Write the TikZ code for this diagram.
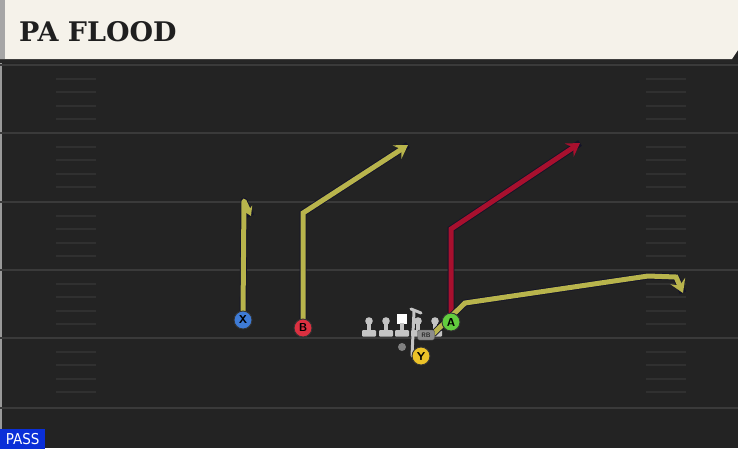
\documentclass[tikz,border=0pt]{standalone}
\usepackage{fontspec}
\setmainfont{DejaVu Sans}
\newfontfamily\titlefont{DejaVu Serif}
\newfontfamily\tagfont{DejaVu Sans Condensed}
\usetikzlibrary{arrows.meta}
\definecolor{fieldbg}{HTML}{232323}
\definecolor{cream}{HTML}{F5F2EA}
\definecolor{yardline}{HTML}{3A3A3A}
\definecolor{hashc}{HTML}{303030}
\definecolor{routey}{HTML}{B8B44C}
\definecolor{router}{HTML}{A8102E}
\definecolor{outl}{HTML}{141428}
\definecolor{pblue}{HTML}{3E7BD6}
\definecolor{pred}{HTML}{DC3040}
\definecolor{pgreen}{HTML}{62CC3E}
\definecolor{pyellow}{HTML}{EBC229}
\definecolor{figc}{HTML}{C4C4C4}
\definecolor{passblue}{HTML}{0A2FD8}
\tikzset{
  player/.style={circle, draw=black!80, line width=0.9pt, minimum size=18pt, inner sep=0pt, font=\sffamily\bfseries\fontsize{11.5}{11.5}\selectfont, text=black},
  routeout/.style={draw=outl, line width=6.8pt, line join=miter, line cap=butt},
  routein/.style={line width=5pt, line join=miter, -{Stealth[length=13pt,width=16pt,inset=5pt]}},
  yline/.style={yardline, line width=1.8pt},
  hashmark/.style={hashc, line width=1.3pt},
}
\begin{document}
\begin{tikzpicture}[x=1pt,y=-1pt]
\useasboundingbox (0,0) rectangle (738,448);
% field
\fill[fieldbg] (0,0) rectangle (738,448);
\fill[black!40] (0,62) rectangle (2,448);
% yard lines
\foreach \yy in {65,133,202,270,338,408} {\draw[yline] (0,\yy) -- (738,\yy);}
% hash marks
\foreach \yy in {65,133,202,270,338} {
  \foreach \k in {1,2,3,4} {
    \draw[hashmark] (56,{round(\yy+\k*13.6)}) -- (96,{round(\yy+\k*13.6)});
    \draw[hashmark] (646,{round(\yy+\k*13.6)}) -- (686,{round(\yy+\k*13.6)});
  }
}
% header
\fill[black!85] (0,58) rectangle (738,63);
\fill[cream] (0,0) -- (738,0) -- (738,50) -- (732,59) -- (0,59) -- cycle;
\fill[black!35] (0,0) rectangle (5,59);
\node[anchor=west, inner sep=0pt, font=\titlefont\bfseries\fontsize{27}{27}\selectfont, text=black!88] (title) at (19,32) {PA FLOOD};
% PASS tag
\node[anchor=south west, fill=passblue, text=white, inner sep=0pt, minimum width=45pt, minimum height=20pt, font=\tagfont\fontsize{15}{15}\selectfont] (pass) at (0,449) {PASS};

% route coordinates
\coordinate (x1) at (244,201);
\coordinate (x2) at (251,216);
\coordinate (b1) at (303,213);
\coordinate (b2) at (408,145);
\coordinate (r1) at (451,229);
\coordinate (r2) at (580,143);
\coordinate (a0) at (433,334);
\coordinate (a1) at (465,303);
\coordinate (a2) at (648,276);
\coordinate (a3) at (676,277);
\coordinate (a4) at (683,293);

% formation figures
\foreach \xx in {369,386,418,435} {
  \fill[figc] (\xx,321) circle (3.8pt);
  \fill[figc] (\xx-2,321) rectangle (\xx+2,331);
  \fill[figc, rounded corners=1pt] (\xx-7,330) rectangle (\xx+7,336.5);
}
\fill[white] (397,314) rectangle (407,324);
\fill[figc] (400,323) rectangle (404,331);
\fill[figc, rounded corners=1pt] (395,330) rectangle (409,336.5);
% QB
\draw[figc, line width=3pt, line cap=round] (411,309) -- (421,313);
\draw[figc, line width=3pt, line cap=round] (414,311) -- (412,356);
\fill[black!50] (402,347) circle (4pt);

% routes
\draw[routeout] (303,321) -- (b1) -- (b2);
\draw[routein, routey] (303,321) -- (b1) -- (b2);
\draw[routeout, line join=round] (243,313) -- (x1) -- (x2);
\draw[routein, routey, line join=round, -{Stealth[length=9pt,width=11pt,inset=3pt]}] (243,313) -- (x1) -- (x2);
\draw[routeout] (451,318) -- (r1) -- (r2);
\draw[routein, router] (451,318) -- (r1) -- (r2);
\draw[routeout] (a0) -- (a1) -- (a2) -- (a3) -- (a4);
\draw[routein, routey] (a0) -- (a1) -- (a2) -- (a3) -- (a4);

% RB tag
\node[fill=black!45, draw=black!70, line width=0.4pt, rounded corners=2pt, inner sep=1pt, minimum width=17pt, minimum height=10pt, font=\sffamily\bfseries\fontsize{6.5}{6.5}\selectfont, text=black!85] (rb) at (426,335) {RB};

% players
\node[player, fill=pblue] (X) at (243,320) {X};
\node[player, fill=pred] (B) at (303,328) {B};
\node[player, fill=pgreen] (A) at (451,322) {A};
\node[player, fill=pyellow] (Y) at (421,356) {Y};
\end{tikzpicture}
\end{document}
